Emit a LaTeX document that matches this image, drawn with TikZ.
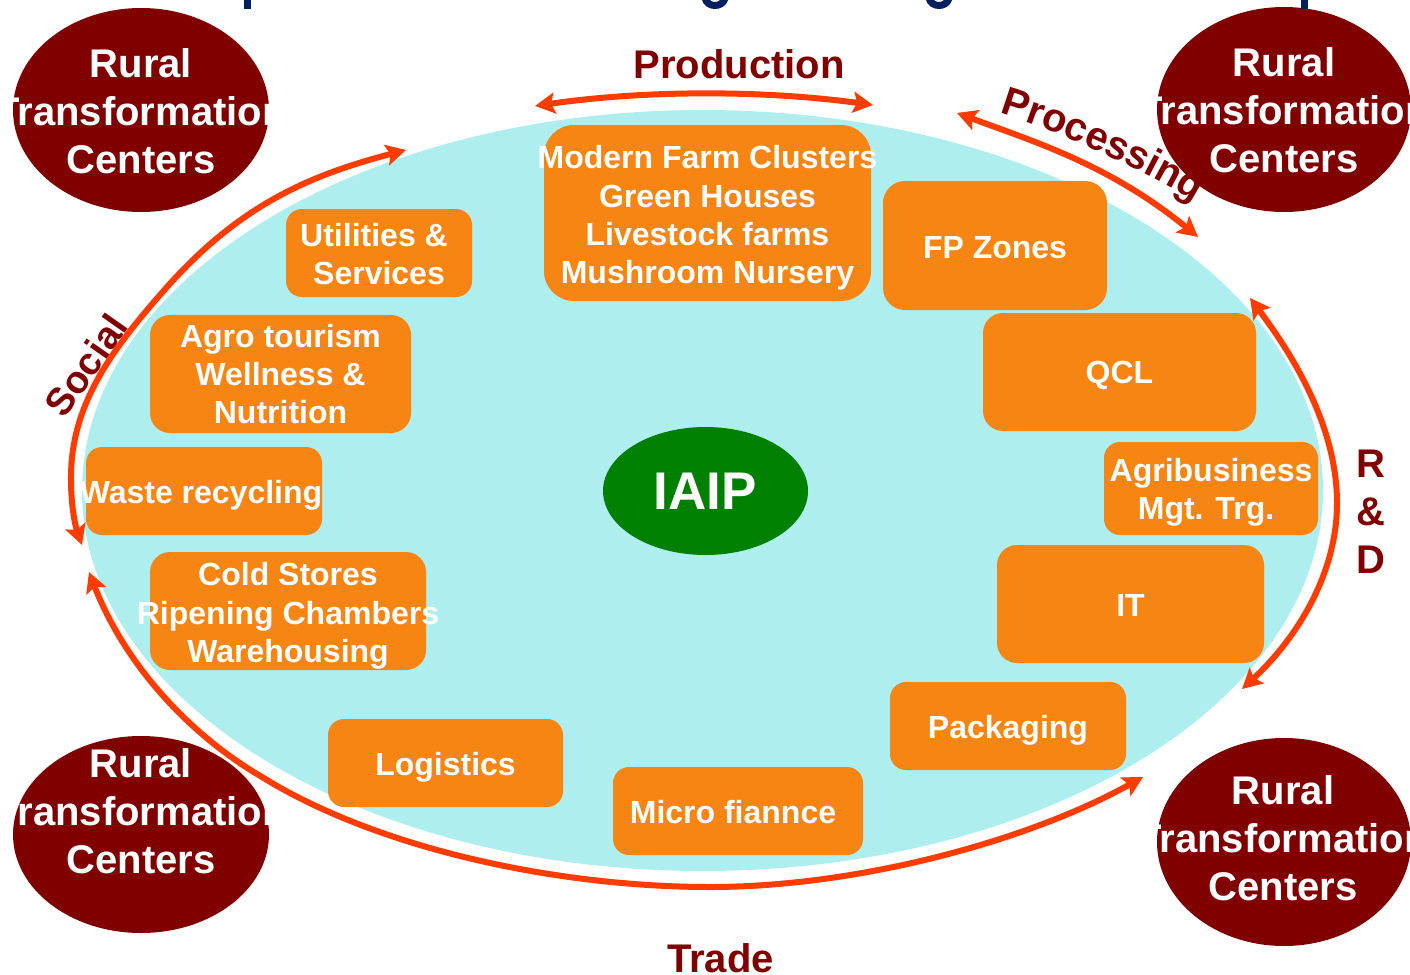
\documentclass[tikz,border=0pt]{standalone}
\usepackage{fontspec}
\setmainfont{Liberation Sans}
\usetikzlibrary{arrows.meta,shapes.geometric,decorations.text}
\definecolor{cyanbg}{HTML}{AEEEEF}
\definecolor{maroon}{HTML}{800000}
\definecolor{boxor}{HTML}{F68514}
\definecolor{arrowred}{HTML}{FF3C00}
\definecolor{iaipgreen}{HTML}{008000}
\definecolor{titlenavy}{HTML}{002060}
\newcommand{\ov}[2][0]{\mbox{\kern#1pt\makebox[0pt][c]{#2}\kern-#1pt}}
\tikzset{
  x=1pt,y=-1pt,
  ruralnode/.style={ellipse,fill=maroon,inner sep=0pt},
  ruraltext/.style={text=white,align=center,inner sep=0pt,font=\fontsize{40}{48}\selectfont\bfseries},
  orangebox/.style={rectangle,fill=boxor,inner sep=0pt,rounded corners=#1},
  orangebox/.default=16pt,
  boxtext/.style={text=white,align=center,inner sep=0pt,font=\fontsize{32}{38.4}\selectfont\bfseries},
  flowlabel/.style={text=maroon,align=center,font=\fontsize{40}{48}\selectfont\bfseries},
  flowline/.style={draw=arrowred,line width=6pt},
  twohead/.style={flowline,{Stealth[length=20pt,width=21pt,inset=4pt]}-{Stealth[length=20pt,width=21pt,inset=4pt]}},
  titlebit/.style={draw=titlenavy,line width=7pt},
}
\begin{document}
\begin{tikzpicture}
\useasboundingbox (0,0) rectangle (1410,974);
% main field
\node[ellipse,fill=cyanbg,inner sep=0pt,minimum width=1241pt,minimum height=761pt] (field) at (702.5,490.5) {};
% rural centres
\node[ruralnode,minimum width=256pt,minimum height=204pt] (tl) at (141,110) {};
\node[ruraltext] (tlt) at ([yshift=-1pt]tl.center) {\ov{Rural}\\\ov{Transformation}\\\ov{Centers}};
\node[ruralnode,minimum width=254pt,minimum height=205pt] (tr) at (1284,109.5) {};
\node[ruraltext] (trt) at ([yshift=-1pt]tr.center) {\ov{Rural}\\\ov{Transformation}\\\ov{Centers}};
\node[ruralnode,minimum width=256pt,minimum height=197pt] (bl) at (141,834.5) {};
\node[ruraltext] (blt) at ([yshift=23pt]bl.center) {\ov{Rural}\\\ov{Transformation}\\\ov{Centers}};
\node[ruralnode,minimum width=254pt,minimum height=208pt] (br) at (1284,842) {};
\node[ruraltext] (brt) at ([xshift=-1pt,yshift=4pt]br.center) {\ov{Rural}\\\ov{Transformation}\\\ov{Centers}};
% remains of the cropped title
\coordinate (pa) at (247.5,-2); \coordinate (pb) at (247.5,9);
\coordinate (ga) at (705,-2); \coordinate (gb) at (725,-2);
\coordinate (gc) at (929,-2); \coordinate (gd) at (949,-2);
\coordinate (qa) at (1304.5,-2); \coordinate (qb) at (1304.5,9);
\draw[titlebit] (pa) -- (pb);
\draw[titlebit] (ga) .. controls (707,8) and (723,8) .. (gb);
\draw[titlebit] (gc) .. controls (931,8) and (947,8) .. (gd);
\draw[titlebit] (qa) -- (qb);
% boxes
\node[orangebox=30pt,minimum width=327pt,minimum height=176pt] (farm) at (707.5,213) {};
\node[boxtext] (farmt) at ([yshift=-5pt]farm.center) {\ov{Modern Farm Clusters}\\\ov{Green Houses}\\\ov{Livestock farms}\\\ov{Mushroom Nursery}};
\node[orangebox=22pt,minimum width=224pt,minimum height=129pt] (fp) at (995,245.5) {};
\node[boxtext] (fpt) at ([yshift=-2pt]fp.center) {FP Zones};
\node[orangebox=20pt,minimum width=273pt,minimum height=118pt] (qcl) at (1119.5,372) {};
\node[boxtext] (qclt) at ([yshift=-3pt]qcl.center) {QCL};
\node[orangebox,minimum width=214pt,minimum height=93pt] (agri) at (1211,488.5) {};
\node[boxtext] (agrit) at ([yshift=-4pt]agri.center) {\ov{Agribusiness}\\\ov[-5]{Mgt. Trg.}};
\node[orangebox=20pt,minimum width=267pt,minimum height=118pt] (it) at (1130.5,604) {};
\node[boxtext] (itt) at ([yshift=-1pt]it.center) {IT};
\node[orangebox,minimum width=236pt,minimum height=88pt] (pack) at (1008,726) {};
\node[boxtext] (packt) at ([yshift=-4pt]pack.center) {Packaging};
\node[orangebox,minimum width=250pt,minimum height=88pt] (micro) at (738,811) {};
\node[boxtext] (microt) at ([xshift=-5pt,yshift=-1pt]micro.center) {Micro fiannce};
\node[orangebox,minimum width=235pt,minimum height=88pt] (logi) at (445.5,763) {};
\node[boxtext] (logit) at ([yshift=-4pt]logi.center) {Logistics};
\node[orangebox=20pt,minimum width=276pt,minimum height=118pt] (cold) at (288,611) {};
\node[boxtext] (coldt) at ([yshift=-5pt]cold.center) {\ov{Cold Stores}\\\ov{Ripening Chambers}\\\ov{Warehousing}};
\node[orangebox,minimum width=236pt,minimum height=88pt] (waste) at (204,491) {};
\node[boxtext] (wastet) at ([xshift=-3pt,yshift=-4pt]waste.center) {Waste recycling};
\node[orangebox=20pt,minimum width=261pt,minimum height=118pt] (agro) at (280.5,374) {};
\node[boxtext] (agrot) at ([yshift=0pt]agro.center) {\ov{Agro tourism}\\\ov{Wellness \&}\\\ov{Nutrition}};
\node[orangebox,minimum width=186pt,minimum height=88pt] (util) at (379,253) {};
\node[boxtext] (utilt) at ([yshift=-1pt]util.center) {\ov[-5]{Utilities \&}\\\ov{Services}};
% centre
\node[ellipse,fill=iaipgreen,text=white,inner sep=0pt,minimum width=205pt,minimum height=128pt,font=\fontsize{53}{60}\selectfont\bfseries] (iaip) at (705.5,491) {IAIP};
% flow labels
\node[flowlabel] (prod) at (739,64) {Production};
\node[flowlabel] (trade) at (720.5,958) {Trade};
\node[flowlabel] (rd) at (1370.5,512) {R\\\&\\D};
\node[flowlabel,rotate=55,font=\fontsize{38.5}{44}\selectfont\bfseries] (social) at (86,365) {Social};
\coordinate (proca) at (999,113);
\coordinate (procb) at (1195,202);
\path[decorate,decoration={text along path,text align=center,
   text={|\fontsize{40}{48}\selectfont\bfseries\color{maroon}|Processing}}]
   (proca) .. controls (1063,133) and (1133,165) .. (procb);
% arrows
\coordinate (pr1) at (535,106); \coordinate (pr2) at (873,105);
\draw[twohead] (pr1) .. controls (645,90) and (763,90) .. (pr2);
\coordinate (ps1) at (957,113); \coordinate (ps2) at (1198,237);
\draw[twohead] (ps1) .. controls (1035,142) and (1110,165) .. (ps2);
\coordinate (rd1) at (1250,298); \coordinate (rd2) at (1337,503); \coordinate (rd3) at (1242,689);
\draw[twohead] (rd1) .. controls (1285,345) and (1337,420) .. (rd2) .. controls (1337,580) and (1290,645) .. (rd3);
\coordinate (so1) at (406,150); \coordinate (so2) at (167,287); \coordinate (so3) at (71,480); \coordinate (so4) at (82,545);
\draw[twohead] (so1) .. controls (310,175) and (240,205) .. (so2) .. controls (112,349) and (70,405) .. (so3) .. controls (71,505) and (75,525) .. (so4);
\coordinate (tr1) at (89,572); \coordinate (tr2) at (262,777); \coordinate (tr3) at (710,887); \coordinate (tr4) at (1143,777);
\draw[twohead] (tr1) .. controls (125,665) and (190,735) .. (tr2) .. controls (380,850) and (560,887) .. (tr3) .. controls (860,887) and (1030,840) .. (tr4);
\end{tikzpicture}
\end{document}
